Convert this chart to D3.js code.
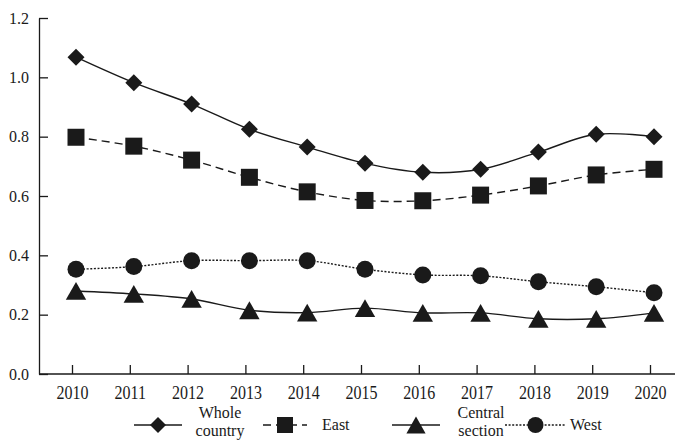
<!DOCTYPE html>
<html>
<head>
<meta charset="utf-8">
<script src="https://cdn.jsdelivr.net/npm/d3@7"></script>
<style>
  html, body { margin: 0; padding: 0; background: #fff; }
  svg text { font-family: "Liberation Serif", "Times New Roman", Times, serif !important; }
</style>
</head>
<body>
<div id="chart"></div>
<script>
// data
const years = [2010, 2011, 2012, 2013, 2014, 2015, 2016, 2017, 2018, 2019, 2020];
const wholeCountry = [1.068, 0.982, 0.91, 0.825, 0.765, 0.71, 0.68, 0.69, 0.748, 0.808, 0.8];
const east = [0.798, 0.768, 0.721, 0.663, 0.614, 0.585, 0.584, 0.603, 0.634, 0.671, 0.69];
const central = [0.28, 0.27, 0.253, 0.215, 0.207, 0.222, 0.206, 0.206, 0.186, 0.186, 0.206];
const west = [0.353, 0.362, 0.382, 0.382, 0.382, 0.353, 0.334, 0.331, 0.311, 0.294, 0.274];
const yTicks = [0, 0.2, 0.4, 0.6, 0.8, 1.0, 1.2];

const width = 679, height = 441;
const ink = '#1a1a1a';
const serif = '"Liberation Serif", "Times New Roman", serif';

const svg = d3.select('#chart')
    .append('svg')
    .attr('width', width)
    .attr('height', height);

const x = d3.scalePoint()
    .domain(years)
    .range([72, 650]);
const y = d3.scaleLinear()
    .domain([0, 1.2])
    .range([374, 18]);
const markOffset = 4; // markers sit a little right of the ticks in the original

// axes
const xAxis = svg.append('g')
    .attr('transform', `translate(0, ${y(0)})`)
    .call(d3.axisBottom(x).tickSize(-9).tickPadding(9.5).tickSizeOuter(0));
xAxis.select('.domain').attr('d', `M39,0H675`);
// the scanned labels are a bit taller than the font
xAxis.selectAll('.tick text').attr('transform', 'scale(1, 1.2)');

const yAxis = svg.append('g')
    .attr('transform', 'translate(39, 0)')
    .call(d3.axisLeft(y).tickValues(yTicks).tickFormat(d3.format('.1f'))
        .tickSize(-9).tickPadding(10).tickSizeOuter(0));

svg.selectAll('g').attr('font-family', serif);
svg.selectAll('.tick text')
    .attr('font-family', serif)
    .attr('font-size', 16)
    .attr('fill', ink);
svg.selectAll('.domain, .tick line')
    .attr('stroke', ink)
    .attr('stroke-width', 1.3);

// marker shapes
const shapes = {
    diamond: (s) => `M0,${-s / 2}L${s / 2},0L0,${s / 2}L${-s / 2},0Z`,
    square: (s) => `M${-s / 2},${-s / 2}h${s}v${s}h${-s}Z`,
    // centred on its bounding box like the original
    triangle: (s) => {
        let w = s * 1.2, h = s * 1.05;
        return `M0,${-h / 2}L${w / 2},${h / 2}L${-w / 2},${h / 2}Z`;
    },
    circle: (s) => d3.arc()({innerRadius: 0, outerRadius: s / 2, startAngle: 0, endAngle: 2 * Math.PI})
};

const series = [
    {name: ['Whole', 'country'], values: wholeCountry, shape: 'diamond', dash: null},
    {name: ['East'], values: east, shape: 'square', dash: '8,5'},
    {name: ['Central', 'section'], values: central, shape: 'triangle', dash: null},
    {name: ['West'], values: west, shape: 'circle', dash: '2,1.6'}
];

const line = d3.line()
    .x((d, i) => x(years[i]) + markOffset)
    .y(d => y(d))
    .curve(d3.curveCatmullRom.alpha(0.5));

series.forEach((s) => {
    let g = svg.append('g');
    g.append('path')
        .attr('d', line(s.values))
        .attr('fill', 'none')
        .attr('stroke', ink)
        .attr('stroke-width', 1.4)
        .attr('stroke-dasharray', s.dash);
    g.selectAll('path.mark')
        .data(s.values)
        .enter()
        .append('path')
        .attr('class', 'mark')
        .attr('transform', (d, i) => `translate(${x(years[i]) + markOffset}, ${y(d)})`)
        .attr('d', shapes[s.shape](17))
        .attr('fill', ink);
});

// legend
const legendY = 425;
const legendItems = [
    {x0: 134, x1: 182, tx: 220},
    {x0: 263, x1: 307, tx: 322},
    {x0: 392, x1: 440, tx: 481},
    {x0: 505, x1: 566, tx: 570}
];
series.forEach((s, i) => {
    let it = legendItems[i];
    let g = svg.append('g');
    g.append('line')
        .attr('x1', it.x0).attr('x2', it.x1)
        .attr('y1', legendY).attr('y2', legendY)
        .attr('stroke', ink)
        .attr('stroke-width', 1.4)
        .attr('stroke-dasharray', s.dash);
    g.append('path')
        .attr('transform', `translate(${(it.x0 + it.x1) / 2}, ${legendY})`)
        .attr('d', shapes[s.shape](16))
        .attr('fill', ink);
    let t = g.append('text')
        .attr('font-family', serif)
        .attr('font-size', 16)
        .attr('fill', ink)
        .attr('text-anchor', s.name.length > 1 ? 'middle' : 'start');
    if (s.name.length > 1) {
        t.selectAll('tspan')
            .data(s.name)
            .enter()
            .append('tspan')
            .attr('x', it.tx)
            .attr('y', (d, k) => legendY - 7 + k * 18)
            .text(d => d);
    } else {
        t.attr('x', it.tx).attr('y', legendY + 5).text(s.name[0]);
    }
});
</script>
</body>
</html>
